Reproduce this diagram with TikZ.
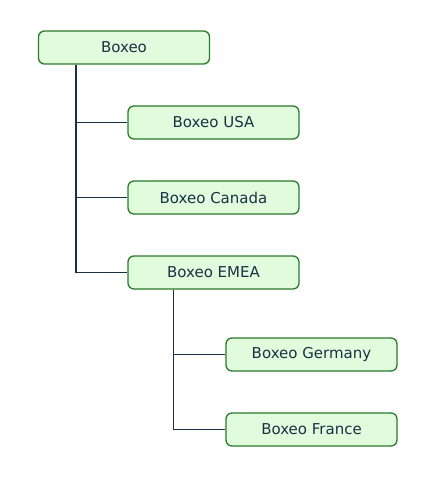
\documentclass[tikz,border=0pt]{standalone}
\usepackage{fontspec}
\setmainfont{DejaVu Sans}
\usepackage{tikz}
\usetikzlibrary{positioning}

\definecolor{boxfill}{HTML}{E0FCDC}
\definecolor{boxline}{HTML}{2A7A2A}
\definecolor{treeline}{HTML}{1A3045}

\begin{document}
\begin{tikzpicture}[
  x=1pt, y=-1pt,
  unit/.style={draw=boxline, fill=boxfill, line width=1.3pt, rounded corners=6pt,
    minimum width=171pt, minimum height=33pt, inner sep=0pt, text=treeline,
    font=\fontsize{15}{18}\selectfont},
  link/.style={draw=treeline, line width=1.3pt}
]
\useasboundingbox (0,0) rectangle (435,495);

\node[unit] (root) at (124,47.5) {Boxeo};
\node[unit] (usa) at (213.5,122.5) {Boxeo USA};
\node[unit] (canada) at (213.5,197.5) {Boxeo Canada};
\node[unit] (emea) at (213.5,272.5) {Boxeo EMEA};
\node[unit] (germany) at (311.5,354.5) {Boxeo Germany};
\node[unit] (france) at (311.5,429.5) {Boxeo France};

\draw[link] ([xshift=38pt]root.south west) |- (usa.west);
\draw[link] ([xshift=38pt]root.south west) |- (canada.west);
\draw[link] ([xshift=38pt]root.south west) |- (emea.west);
\draw[link] ([xshift=46pt]emea.south west) |- (germany.west);
\draw[link] ([xshift=46pt]emea.south west) |- (france.west);
\end{tikzpicture}
\end{document}
